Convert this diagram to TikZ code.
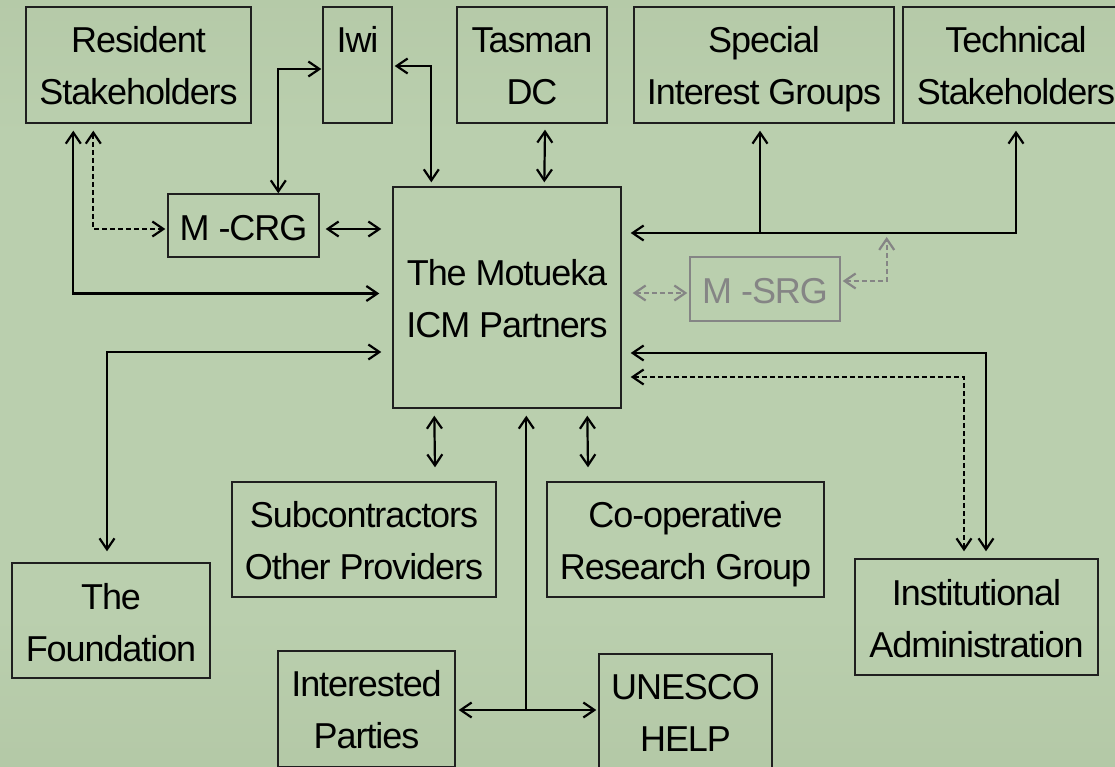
\documentclass[tikz,border=0pt]{standalone}
\usepackage{fontspec}
\setmainfont{Liberation Sans}[LetterSpace=-3]
\usetikzlibrary{arrows.meta,calc}

\definecolor{bgtop}{HTML}{A8BB98}
\definecolor{bgmid}{HTML}{BACFAE}
\definecolor{bgbot}{HTML}{A4B894}
\definecolor{srg}{HTML}{858585}

\pgfdeclareverticalshading{greenbg}{100bp}{%
  color(0bp)=(bgbot); color(35bp)=(bgmid); color(66bp)=(bgmid); color(100bp)=(bgtop)}

\newcommand{\lines}[1]{\begin{tabular}[t]{@{}c@{}}#1\end{tabular}}

\tikzset{
  box/.style={draw=black!88, line width=1.4pt, inner sep=0pt, rectangle},
  lbl/.style={inner sep=0pt, anchor=base, font=\fontsize{36}{52}\selectfont},
  conn/.style={line width=2.2pt, black, line cap=butt,
    arrows={-}, >={Straight Barb[length=11pt,width=15pt,line width=2.2pt]}},
  dconn/.style={conn, dash pattern=on 5pt off 3pt},
  gconn/.style={dconn, srg},
}

\begin{document}
\begin{tikzpicture}[x=1pt,y=-1pt]
  % page and background
  \useasboundingbox (0,0) rectangle (1115,767);
  \fill[shading=greenbg] (0,0) rectangle (1115,767);

  % boxes
  \node[box, minimum width=225, minimum height=116] (res)  at (138.5,65) {};
  \node[box, minimum width=69,  minimum height=116] (iwi)  at (357.5,65) {};
  \node[box, minimum width=150, minimum height=116] (tas)  at (532,65) {};
  \node[box, minimum width=260, minimum height=116] (sig)  at (764,65) {};
  \node[box, minimum width=226, minimum height=116] (tec)  at (1016,65) {};
  \node[box, minimum width=151, minimum height=63]  (mcrg) at (243.5,225.5) {};
  \node[box, minimum width=228, minimum height=221] (main) at (507,297.5) {};
  \node[box, draw=srg, minimum width=150, minimum height=64] (msrg) at (765,289) {};
  \node[box, minimum width=264, minimum height=115] (sub)  at (364,539.5) {};
  \node[box, minimum width=277, minimum height=115] (coop) at (685.5,539.5) {};
  \node[box, minimum width=198, minimum height=115] (fnd)  at (111,620.5) {};
  \node[box, minimum width=243, minimum height=116] (inst) at (976.5,617) {};
  \node[box, minimum width=177, minimum height=116] (int)  at (366.5,709) {};
  \node[box, minimum width=173, minimum height=116] (une)  at (685.5,712) {};

  % texts
  \node[lbl] (tres)  at ($(res.north)+(0,46.5)$)  {\lines{Resident\\Stakeholders}};
  \node[lbl] (tiwi)  at ($(iwi.north)+(0,46.5)$)  {Iwi};
  \node[lbl] (ttas)  at ($(tas.north)+(0,46.5)$)  {\lines{Tasman\\DC}};
  \node[lbl] (tsig)  at ($(sig.north)+(0,46.5)$)  {\lines{Special\\Interest Groups}};
  \node[lbl] (ttec)  at ($(tec.north)+(0,46.5)$)  {\lines{Technical\\Stakeholders}};
  \node[lbl] (tmcrg) at ($(mcrg.north)+(0,47)$)   {M -CRG};
  \node[lbl] (tmain) at ($(main.north)+(0,99)$)   {\lines{The Motueka\\ICM Partners}};
  \node[lbl, text=srg] (tmsrg) at ($(msrg.north)+(0,47)$) {M -SRG};
  \node[lbl] (tsub)  at ($(sub.north)+(0,46)$)    {\lines{Subcontractors\\Other Providers}};
  \node[lbl] (tcoop) at ($(coop.north)+(0,46)$)   {\lines{Co-operative\\Research Group}};
  \node[lbl] (tfnd)  at ($(fnd.north)+(0,47)$)    {\lines{The\\Foundation}};
  \node[lbl] (tinst) at ($(inst.north)+(0,47)$)   {\lines{Institutional\\Administration}};
  \node[lbl] (tint)  at ($(int.north)+(0,46)$)    {\lines{Interested\\Parties}};
  \node[lbl] (tune)  at ($(une.north)+(0,46.5)$)  {\lines{UNESCO\\HELP}};

  % resident stakeholders links
  \draw[conn,<->] ($(res.south west)+(48,7)$) |- ($(main.west)+(-13,-4)$);
  \draw[dconn,<->] ($(res.south west)+(68,7)$) |- ($(mcrg.west)+(-2,3.5)$);
  \draw[conn,<->] ($(mcrg.east)+(6,3.5)$) -- ($(main.west|-mcrg.east)+(-11,3.5)$);

  % iwi links
  \draw[conn,<->] ($(iwi.west)+(-1,4)$) -| ($(mcrg.north west)+(111,0)$);
  \draw[conn,<->] ($(iwi.east)+(2,1)$) -| ($(main.north west)+(39,-4)$);

  % tasman
  \draw[conn,<->] ($(tas.south)+(13,6)$) -- ($(main.north west)+(152,-4)$);

  % special interest and technical stakeholders
  \draw[conn,<->] ($(tec.south)+(0,7)$) |- ($(main.east)+(9,-64.5)$);
  \draw[conn,->] ($(sig.south)+(-4,110)$) -- ($(sig.south)+(-4,7)$);

  % M-SRG
  \draw[gconn,<->] ($(main.east)+(11,-4.5)$) -- ($(msrg.west)+(-2,4)$);
  \draw[gconn,<->] ($(msrg.east)+(2,-8)$) -| ($(msrg.east)+(46,-52)$);

  % foundation and institutional administration
  \draw[conn,<->] ($(main.west)+(-11,54.5)$) -| ($(fnd.north)+(-4,-11)$);
  \draw[conn,<->] ($(main.east)+(9,55.5)$) -| ($(inst.north)+(9.5,-7)$);
  \draw[dconn,<->] ($(main.east)+(9,79.5)$) -| ($(inst.north)+(-12.5,-7)$);

  % lower links
  \draw[conn,<->] ($(main.south west)+(42,7)$) -- ($(sub.north)+(71,-14)$);
  \draw[conn,<->] ($(main.south west)+(195,7)$) -- ($(coop.north)+(-97.5,-14)$);
  \coordinate (j) at ($(main.south west)+(134,302)$);
  \draw[conn,->] (j) -- ($(main.south west)+(134,7)$);
  \draw[conn,<->] ($(int.east)+(3,1)$) -- ($(une.west)+(-2,-2)$);
\end{tikzpicture}
\end{document}
